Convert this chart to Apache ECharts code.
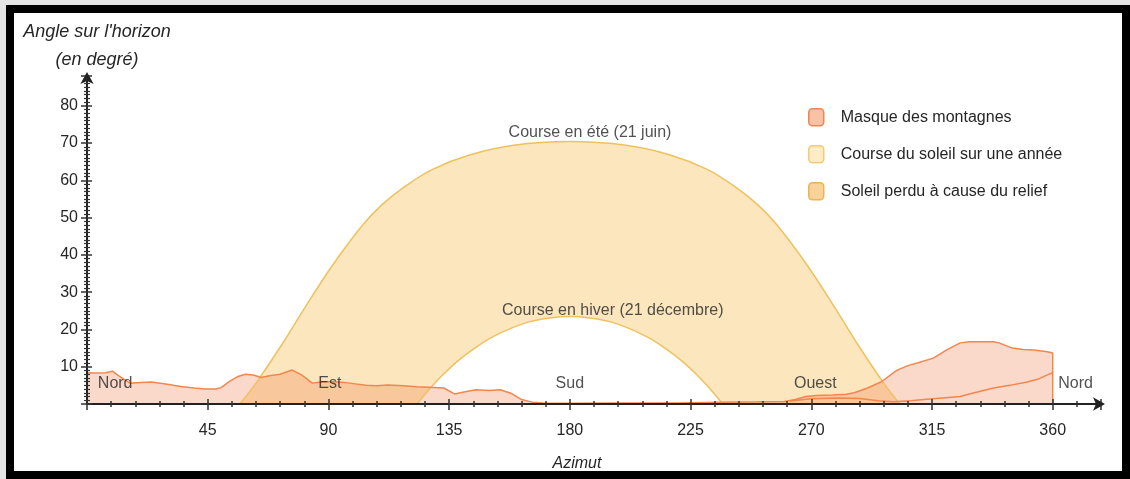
<!DOCTYPE html>
<html>
<head>
<meta charset="utf-8">
<script src="https://cdn.jsdelivr.net/npm/echarts@6/dist/echarts.min.js"></script>
<style>
  html, body { margin: 0; padding: 0; background: #e4e4e4; }
  #frame {
    position: absolute; left: 6px; top: 5px; width: 1124px; height: 474px;
    box-sizing: border-box; border: 8px solid #000; background: #fff;
  }
  #chart { position: absolute; left: 0; top: 0; width: 1130px; height: 479px; }
</style>
</head>
<body>
<div id="frame"></div>
<div id="chart"></div>
<script>
// sun path 21 june : [azimut, angle]
const summerPath = [
  [57, 0], [63, 5.6], [72.4, 15.7], [81.7, 26.4], [91.6, 37.3], [103, 48.2],
  [110, 53.5], [118.6, 58.4], [129, 63], [142.6, 66.8], [159, 69.4], [180, 70.4],
  [201, 69.4], [217.4, 66.8], [231, 63], [241.4, 58.4], [250, 53.5], [257, 48.2],
  [268.4, 37.3], [278.3, 26.4], [287.6, 15.7], [297, 5.6], [303, 0]
];
// sun path 21 december
const winterPath = [
  [123, 0], [127.3, 3.7], [132.5, 7.7], [138.5, 11.7], [145, 15.2], [151.2, 18],
  [158, 20.3], [165, 22.1], [172.5, 23.1], [180, 23.5], [187.5, 23.1], [195, 22.1],
  [202, 20.3], [208.8, 18], [215, 15.2], [221.5, 11.7], [227.5, 7.7], [232.7, 3.7], [237, 0]
];
// mountain mask (upper envelope)
const mountainProfile = [
  [0, 8.4], [3, 8.3], [7, 8.4], [9.5, 8.8], [12, 7.5], [16, 5.6], [20, 5.8], [24, 5.9],
  [30, 5.3], [35, 4.7], [40, 4.3], [44, 4.0], [48, 4.0], [50, 4.4], [53, 6.0], [56, 7.3],
  [59, 8.0], [62, 7.8], [65, 7.1], [68, 7.6], [72, 8.0], [76.5, 9.1], [80, 7.8], [84, 5.6],
  [88, 6.0], [92, 6.0], [96, 5.8], [100, 5.4], [104, 5.0], [108, 4.9], [112, 5.1], [118, 4.9],
  [123, 4.6], [127, 4.5], [133, 4.3], [137, 2.7], [141, 3.3], [145, 3.8], [150, 3.6], [154, 3.8],
  [158, 2.9], [162, 1.2], [166, 0.5], [170, 0.3], [180, 0.2], [200, 0.3], [220, 0.3], [236, 0.5],
  [250, 0.6], [260, 0.7], [264, 1.2], [268, 2.0], [272, 2.3], [278, 2.4], [283, 2.6], [286, 3.0],
  [291, 4.3], [296, 5.9], [302, 9.1], [306, 10.3], [309.5, 11.0], [315.5, 12.3], [320.5, 14.5],
  [325.5, 16.4], [329, 16.7], [338, 16.7], [340, 16.4], [345, 15.0], [349, 14.6], [353, 14.5],
  [358, 14.0], [360, 13.7], [360, 0]
];
// lower horizon line seen under the hump
const lowerHorizon = [
  [262, 0.8], [270, 1.4], [280, 1.6], [288, 1.5], [295, 0.9], [300.5, 0.6], [307, 0.9],
  [313, 1.3], [320, 1.7], [325.5, 2.0], [330, 2.9], [338, 4.3], [344, 5.0], [350.5, 5.9],
  [355, 6.8], [358, 7.8], [360, 8.4]
];
const compassNames = ['Nord', 'Est', 'Sud', 'Ouest', 'Nord'];
const compassAz = [10.5, 90.5, 180, 271.5, 368.5];
const compassAlt = [5.6, 5.6, 5.6, 5.6, 5.6];
const curveNames = ['Course en été (21 juin)', 'Course en hiver (21 décembre)'];
const curveAz = [187.5, 196];
const curveAlt = [72.8, 25];
const legendNames = ['Masque des montagnes', 'Course du soleil sur une année', 'Soleil perdu à cause du relief'];

const font = "'Liberation Sans', Arial, sans-serif";
const textColor = '#262626';
const sunLine = '#efc15e';
const sunFill = '#fbe6be';
const mountLine = '#f2864c';
const mountFill = 'rgba(242,130,80,0.3)';

const textPoints = [];
compassNames.forEach((n, i) => textPoints.push({ name: n, value: [compassAz[i], compassAlt[i]] }));
curveNames.forEach((n, i) => textPoints.push({ name: n, value: [curveAz[i], curveAlt[i]] }));

const chart = echarts.init(document.getElementById('chart'));

const xBase = { type: 'value', min: 0, max: 378, interval: 45, z: 10 };
const yBase = { type: 'value', min: 0, max: 88, interval: 10, z: 10 };

const option = {
  animation: false,
  title: [
    {
      text: "Angle sur l'horizon\n(en degré)",
      left: 92, top: 13, textAlign: 'center',
      textStyle: { fontFamily: font, fontSize: 18, fontStyle: 'italic', fontWeight: 'normal', color: textColor, lineHeight: 28 }
    },
    {
      text: 'Azimut',
      left: 572, top: 451, textAlign: 'center',
      textStyle: { fontFamily: font, fontSize: 16, fontStyle: 'italic', fontWeight: 'normal', color: textColor }
    }
  ],
  legend: {
    orient: 'vertical',
    left: 808, top: 108, padding: 0,
    itemWidth: 15, itemHeight: 17, itemGap: 18.5,
    selectedMode: false,
    textStyle: { fontFamily: font, fontSize: 16, color: textColor, padding: [0, 0, 0, 12] },
    data: [
      { name: legendNames[0], icon: 'roundRect', itemStyle: { color: '#f9c2a6', borderColor: '#ee8652', borderWidth: 1.5 } },
      { name: legendNames[1], icon: 'roundRect', itemStyle: { color: '#fdecc6', borderColor: '#f2cb74', borderWidth: 1.5 } },
      { name: legendNames[2], icon: 'roundRect', itemStyle: { color: '#f8d298', borderColor: '#efb255', borderWidth: 1.5 } }
    ]
  },
  grid: { left: 87, right: 29, top: 76, bottom: 75, containLabel: false },
  xAxis: [
    Object.assign({}, xBase, {
      position: 'bottom',
      axisLine: { onZero: false, lineStyle: { color: '#222', width: 2 }, symbol: ['none', 'arrow'], symbolSize: [10, 12], symbolOffset: [0, 4] },
      axisTick: { length: 6, lineStyle: { color: '#333', width: 1.5 } },
      minorTick: { show: true, splitNumber: 5, length: 3, lineStyle: { color: '#333', width: 1.5 } },
      splitLine: { show: false },
      axisLabel: {
        margin: 19, fontFamily: font, fontSize: 16, color: textColor,
        formatter: v => (v > 0 && v <= 360 && v % 45 === 0) ? String(v) : ''
      }
    }),
    Object.assign({}, xBase, {
      position: 'bottom',
      axisLine: { show: false, onZero: false },
      axisTick: { inside: true, length: 5, lineStyle: { color: '#333', width: 1.5 } },
      minorTick: { show: true, splitNumber: 5, length: 3, lineStyle: { color: '#333', width: 1.5 } },
      splitLine: { show: false },
      axisLabel: { show: false }
    })
  ],
  yAxis: [
    Object.assign({}, yBase, {
      position: 'left',
      axisLine: { show: true, onZero: false, lineStyle: { color: '#222', width: 2 }, symbol: ['none', 'arrow'], symbolSize: [10, 12], symbolOffset: [0, 4] },
      axisTick: { show: true, length: 6, lineStyle: { color: '#333', width: 1.5 } },
      minorTick: { show: true, splitNumber: 10, length: 3, lineStyle: { color: '#333', width: 1.2 } },
      splitLine: { show: false },
      axisLabel: {
        margin: 9, fontFamily: font, fontSize: 16, color: textColor,
        formatter: v => (v > 0 && v <= 80 && v % 10 === 0) ? String(v) : ''
      }
    }),
    Object.assign({}, yBase, {
      position: 'left',
      axisLine: { show: false, onZero: false },
      axisTick: { show: true, inside: true, length: 5, lineStyle: { color: '#333', width: 1.5 } },
      minorTick: { show: true, splitNumber: 10, length: 3, lineStyle: { color: '#333', width: 1.2 } },
      splitLine: { show: false },
      axisLabel: { show: false }
    })
  ],
  series: [
    {
      name: legendNames[1],
      type: 'line',
      data: summerPath,
      showSymbol: false,
      smooth: 0.35,
      lineStyle: { color: sunLine, width: 1.5 },
      itemStyle: { color: sunLine },
      areaStyle: { color: sunFill, opacity: 1 }
    },
    {
      name: 'hiver',
      type: 'line',
      data: winterPath,
      showSymbol: false,
      smooth: 0.35,
      lineStyle: { color: sunLine, width: 1.5 },
      itemStyle: { color: sunLine },
      areaStyle: { color: '#ffffff', opacity: 1 }
    },
    {
      name: legendNames[0],
      type: 'line',
      data: mountainProfile,
      showSymbol: false,
      lineStyle: { color: mountLine, width: 1.5 },
      itemStyle: { color: mountLine },
      areaStyle: { color: mountFill, opacity: 1 }
    },
    {
      name: 'horizon',
      type: 'line',
      data: lowerHorizon,
      showSymbol: false,
      lineStyle: { color: mountLine, width: 1.5 },
      itemStyle: { color: mountLine }
    },
    {
      name: legendNames[2],
      type: 'line',
      data: [],
      itemStyle: { color: '#f8d298' }
    },
    {
      name: 'textes',
      type: 'scatter',
      data: textPoints,
      symbolSize: 1,
      itemStyle: { color: 'rgba(0,0,0,0)' },
      label: {
        show: true, position: 'inside', formatter: p => p.name,
        fontFamily: font, fontSize: 16, color: textColor
      },
      z: 5
    }
  ]
};

chart.setOption(option);
</script>
</body>
</html>
